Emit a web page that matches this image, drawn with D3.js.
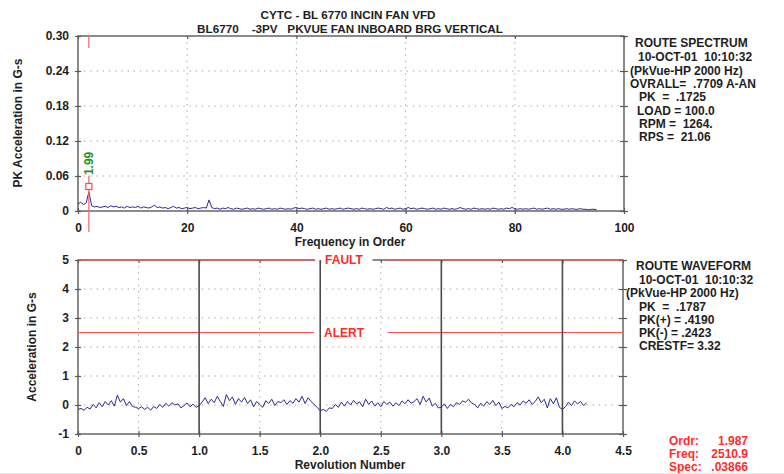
<!DOCTYPE html>
<html><head><meta charset="utf-8">
<script src="https://cdn.jsdelivr.net/npm/d3@7"></script>
<style>
body{margin:0;background:#fff}
svg{display:block;font-family:"Liberation Sans",Arial,sans-serif;font-weight:bold}
text{white-space:pre}
</style>
</head><body><svg id="c" width="784" height="474"></svg>
<script>
// ---------------- DATA ----------------
const titleLines = ["CYTC - BL 6770 INCIN FAN VFD", "BL6770    -3PV   PKVUE FAN INBOARD BRG VERTICAL"];

// Spectrum: PK acceleration (G-s) sampled every 0.5 orders from order 0
const specStep = 0.5;
const spectrumValues = [
  0.012,0.015,0.011,0.014,0.033,0.009,0.007,0.008,0.006,0.007,
  0.008,0.006,0.009,0.007,0.008,0.006,0.007,0.005,0.008,0.006,
  0.007,0.006,0.008,0.005,0.007,0.006,0.005,0.007,0.010,0.006,
  0.007,0.005,0.006,0.004,0.006,0.008,0.005,0.006,0.004,0.005,
  0.006,0.004,0.005,0.006,0.004,0.005,0.006,0.005,0.019,0.006,
  0.004,0.005,0.003,0.005,0.004,0.006,0.004,0.003,0.005,0.004,
  0.003,0.004,0.005,0.003,0.004,0.003,0.005,0.004,0.003,0.004,
  0.005,0.003,0.004,0.003,0.005,0.004,0.003,0.004,0.003,0.005,
  0.006,0.004,0.005,0.004,0.003,0.004,0.005,0.003,0.004,0.003,
  0.004,0.005,0.003,0.004,0.003,0.004,0.005,0.003,0.004,0.005,
  0.004,0.003,0.004,0.003,0.005,0.004,0.003,0.004,0.003,0.004,
  0.005,0.004,0.003,0.006,0.004,0.005,0.003,0.004,0.005,0.003,
  0.004,0.006,0.004,0.005,0.003,0.004,0.005,0.004,0.003,0.004,
  0.005,0.003,0.004,0.003,0.005,0.004,0.003,0.004,0.003,0.004,
  0.006,0.004,0.003,0.004,0.003,0.005,0.004,0.003,0.004,0.003,
  0.004,0.003,0.005,0.004,0.003,0.004,0.003,0.005,0.004,0.006,
  0.004,0.003,0.004,0.003,0.004,0.003,0.004,0.005,0.003,0.004,
  0.003,0.004,0.005,0.003,0.004,0.003,0.004,0.003,0.003,0.004,
  0.003,0.004,0.003,0.003,0.004,0.003,0.003,0.002,0.003,0.003,
  0.002
];

// Waveform: acceleration (G-s) sampled every 0.025 revolutions from 0
const waveStep = 0.025;
const waveformValues = [
  -0.15,-0.12,-0.18,-0.08,-0.14,0.02,-0.10,0.08,-0.06,0.12,0.00,0.15,-0.04,0.34,0.10,0.22,-0.02,0.12,-0.05,-0.08,
  -0.12,-0.06,-0.15,-0.08,-0.18,-0.05,-0.12,0.02,-0.08,0.06,-0.04,0.08,0.00,0.04,-0.10,-0.02,0.07,-0.06,0.03,-0.08,
  -0.02,0.10,0.25,0.05,0.20,0.08,0.30,0.12,-0.05,0.36,0.15,0.28,0.02,0.22,0.10,0.26,0.05,0.18,-0.06,0.12,
  0.02,-0.08,0.15,0.05,0.20,-0.02,0.12,0.08,0.18,0.02,0.15,0.06,0.22,0.10,0.30,0.05,0.25,0.12,0.02,-0.08,
  -0.20,-0.15,-0.22,-0.10,-0.12,0.02,-0.08,0.10,-0.04,0.12,0.00,0.16,0.04,0.10,-0.06,0.20,0.02,0.14,-0.04,0.08,
  -0.06,0.12,0.02,0.10,-0.04,0.08,-0.02,0.14,0.04,0.18,0.06,0.12,0.22,0.02,0.30,0.10,0.24,-0.04,0.06,-0.10,
  -0.08,0.04,-0.12,0.02,-0.06,0.08,0.02,0.14,0.10,0.20,0.06,0.02,-0.10,0.06,-0.04,0.12,0.02,0.16,-0.02,0.10,
  -0.12,-0.05,-0.10,0.02,-0.06,0.08,0.00,0.14,0.06,0.18,0.02,0.12,0.28,0.08,0.20,-0.10,0.22,0.04,0.25,-0.08,
  -0.15,-0.06,0.10,-0.02,0.14,0.04,0.12,-0.02,0.08
];

const specXTicks = [0,20,40,60,80,100];
const specYTicks = [0,0.06,0.12,0.18,0.24,0.30];
const specYTickLabels = ["0","0.06","0.12","0.18","0.24","0.30"];
const waveXTicks = [0,0.5,1.0,1.5,2.0,2.5,3.0,3.5,4.0,4.5];
const waveXTickLabels = ["0","0.5","1.0","1.5","2.0","2.5","3.0","3.5","4.0","4.5"];
const waveYTicks = [-1,0,1,2,3,4,5];
const waveYTickLabels = ["-1","0","1","2","3","4","5"];
const revolutionLines = [1,2,3,4];

const cursorOrder = 1.99;
const cursorSpec = 0.03866;
const cursorLabel = "1.99";
const faultLevel = 5, alertLevel = 2.5;

const spectrumInfo = ["ROUTE SPECTRUM","10-OCT-01  10:10:32","(PkVue-HP 2000 Hz)","OVRALL=  .7709 A-AN","PK  =  .1725","LOAD = 100.0","RPM =  1264.","RPS =  21.06"];
const waveformInfo = ["ROUTE WAVEFORM","10-OCT-01  10:10:32","(PkVue-HP 2000 Hz)","PK  =  .1787","PK(+) = .4190","PK(-) = .2423","CRESTF= 3.32"];
const cursorInfoLabels = ["Ordr:","Freq:","Spec:"];
const cursorInfoValues = ["1.987","2510.9",".03866"];

// ---------------- DRAWING ----------------
const svg = d3.select("#c");
const TXT = "#1e1e1e", FRAME = "#5a5a5a", GRID = "#9a9a9a", LINE = "#2b2b8c", RED = "#ff2b2b";
const FS = 12;

const X0 = 78, X1 = 624;
const specX = d3.scaleLinear().domain([0,100]).range([X0,X1]);
const specY = d3.scaleLinear().domain([0,0.30]).range([211,36]);
const waveX = d3.scaleLinear().domain([0,4.5]).range([X0,X1-1]);
const waveY = d3.scaleLinear().domain([-1,5]).range([434,260]);

// Titles
svg.append("text").attr("x",348).attr("y",19).attr("text-anchor","middle").attr("font-size",11.7).attr("fill",TXT).text(titleLines[0]);
svg.append("text").attr("x",350).attr("y",33).attr("text-anchor","middle").attr("font-size",11.7).attr("fill",TXT).text(titleLines[1]);

function plotFrame(g, xs, ys, xTicks, yTicks, xLabels, yLabels, gridX, gridY) {
  const [xa,xb] = xs.range(), [yb,ya] = ys.range();
  g.append("g").selectAll("line").data(gridY).join("line")
    .attr("x1",xa).attr("x2",xb).attr("y1",d=>ys(d)).attr("y2",d=>ys(d))
    .attr("stroke",GRID).attr("stroke-width",1).attr("stroke-dasharray","1.2,5");
  g.append("g").selectAll("line").data(gridX).join("line")
    .attr("y1",ya).attr("y2",yb).attr("x1",d=>xs(d)).attr("x2",d=>xs(d))
    .attr("stroke",GRID).attr("stroke-width",1).attr("stroke-dasharray","1.2,5");
  g.append("rect").attr("x",xa).attr("y",ya).attr("width",xb-xa).attr("height",yb-ya)
    .attr("fill","none").attr("stroke",FRAME).attr("stroke-width",1.4);
  const left = g.append("g").attr("transform",`translate(${xa},0)`)
    .call(d3.axisLeft(ys).tickValues(yTicks).tickFormat((d,i)=>yLabels[i]).tickSizeInner(3).tickSizeOuter(0).tickPadding(6));
  left.selectAll(".tick line").attr("x1",3);
  const bottom = g.append("g").attr("transform",`translate(0,${yb})`)
    .call(d3.axisBottom(xs).tickValues(xTicks).tickFormat((d,i)=>xLabels[i]).tickSizeInner(3).tickSizeOuter(0).tickPadding(9));
  bottom.selectAll(".tick line").attr("y1",-3);
  const right = g.append("g").attr("transform",`translate(${xb},0)`)
    .call(d3.axisRight(ys).tickValues(yTicks).tickFormat("").tickSizeInner(4).tickSizeOuter(0));
  right.selectAll(".tick line").attr("x1",-4);
  const top = g.append("g").attr("transform",`translate(0,${ya})`)
    .call(d3.axisTop(xs).tickValues(xTicks).tickFormat("").tickSizeInner(-3).tickSizeOuter(0));
  [left,bottom,right,top].forEach(a=>{
    a.select(".domain").remove();
    a.selectAll(".tick line").attr("stroke",FRAME).attr("stroke-width",1.2);
    a.selectAll("text").attr("fill",TXT).attr("font-size",FS).attr("font-weight","bold")
      .attr("font-family",'"Liberation Sans",Arial,sans-serif');
  });
}

// ---- Top: spectrum ----
const gTop = svg.append("g");
plotFrame(gTop, specX, specY, specXTicks, specYTicks,
  specXTicks.map(String), specYTickLabels, [20,40,60,80], [0.06,0.12,0.18,0.24]);

const specData = spectrumValues.map((v,i)=>({x:i*specStep, y:v}));
gTop.append("path").datum(specData)
  .attr("d", d3.line().x(d=>specX(d.x)).y(d=>specY(d.y)))
  .attr("fill","none").attr("stroke",LINE).attr("stroke-width",1);

const cx = specX(cursorOrder), cy = specY(cursorSpec);
gTop.append("line").attr("x1",cx).attr("x2",cx).attr("y1",specY(0.30)).attr("y2",specY(0.30)+12)
  .attr("stroke","#f07070").attr("stroke-width",1.3);
gTop.append("line").attr("x1",cx).attr("x2",cx).attr("y1",cy-13).attr("y2",specY(0)+21)
  .attr("stroke","#f07070").attr("stroke-width",1.3);
gTop.append("rect").attr("x",cx-3).attr("y",cy-5).attr("width",6).attr("height",6)
  .attr("fill","#fff").attr("stroke","#f05050").attr("stroke-width",1.2);
gTop.append("text").attr("transform",`translate(${cx+4},${cy-25}) rotate(-90)`)
  .attr("text-anchor","middle").attr("font-size",FS).attr("fill","#1a961a").text(cursorLabel);

svg.append("text").attr("transform","translate(22,123) rotate(-90)").attr("text-anchor","middle")
  .attr("font-size",FS).attr("fill",TXT).text("PK Acceleration in G-s");
svg.append("text").attr("x",350).attr("y",246).attr("text-anchor","middle")
  .attr("font-size",FS).attr("fill",TXT).text("Frequency in Order");

// ---- Bottom: waveform ----
const gBot = svg.append("g");
plotFrame(gBot, waveX, waveY, waveXTicks, waveYTicks,
  waveXTickLabels, waveYTickLabels, [0.5,1.5,2.5,3.5], [0,1,2,3,4]);

const gLevels = gBot.append("g");
function levelLine(level, label, mask) {
  const y = waveY(level);
  const t = gBot.append("text").attr("x",344).attr("y",y+4).attr("text-anchor","middle")
    .attr("font-size",FS).attr("fill",RED).text(label);
  const bb = t.node().getBBox();
  const gapL = bb.x - 10, gapR = bb.x + bb.width + 23;
  if (mask) {
    gLevels.append("rect").attr("x",gapL).attr("y",y-2).attr("width",bb.width+19).attr("height",4).attr("fill","#fff");
  }
  gLevels.append("line").attr("x1",waveX(0)).attr("x2",gapL).attr("y1",y).attr("y2",y)
    .attr("stroke","#ff5050").attr("stroke-width",1.2);
  gLevels.append("line").attr("x1",gapR).attr("x2",waveX(4.5)).attr("y1",y).attr("y2",y)
    .attr("stroke","#ff5050").attr("stroke-width",1.2);
}
levelLine(faultLevel,"FAULT",true);
levelLine(alertLevel,"ALERT",false);

gBot.append("g").selectAll("line").data(revolutionLines).join("line")
  .attr("x1",d=>waveX(d)).attr("x2",d=>waveX(d)).attr("y1",waveY(5)).attr("y2",waveY(-1))
  .attr("stroke","#4a4a4a").attr("stroke-width",1.6);

const waveData = waveformValues.map((v,i)=>({x:i*waveStep, y:v}));
gBot.append("path").datum(waveData)
  .attr("d", d3.line().x(d=>waveX(d.x)).y(d=>waveY(d.y)))
  .attr("fill","none").attr("stroke",LINE).attr("stroke-width",1);

svg.append("text").attr("transform","translate(36,347) rotate(-90)").attr("text-anchor","middle")
  .attr("font-size",FS).attr("fill",TXT).text("Acceleration in G-s");
svg.append("text").attr("x",350).attr("y",469).attr("text-anchor","middle")
  .attr("font-size",FS).attr("fill",TXT).text("Revolution Number");

// ---- info panels ----
const specInfoX = [635,638,630,630,639,637,639,639];
const specInfoY = [47,61,75,88,101,115,128,141];
svg.append("g").selectAll("text").data(spectrumInfo).join("text")
  .attr("x",(d,i)=>specInfoX[i]).attr("y",(d,i)=>specInfoY[i])
  .attr("font-size",FS).attr("fill",TXT).text(d=>d);

const waveInfoX = [636,639,626,639,639,639,639];
const waveInfoY = [270,284,297,311,324,337,350];
svg.append("g").selectAll("text").data(waveformInfo).join("text")
  .attr("x",(d,i)=>waveInfoX[i]).attr("y",(d,i)=>waveInfoY[i])
  .attr("font-size",FS).attr("fill",TXT).text(d=>d);

const curY = [445,458,471];
svg.append("g").selectAll("text").data(cursorInfoLabels).join("text")
  .attr("x",669).attr("y",(d,i)=>curY[i]).attr("font-size",FS).attr("fill",RED).text(d=>d);
svg.append("g").selectAll("text").data(cursorInfoValues).join("text")
  .attr("x",748).attr("y",(d,i)=>curY[i]).attr("text-anchor","end").attr("font-size",FS).attr("fill",RED).text(d=>d);

svg.append("line").attr("x1",0).attr("x2",784).attr("y1",473.5).attr("y2",473.5).attr("stroke","#e4e4e4");
</script>
</body></html>
